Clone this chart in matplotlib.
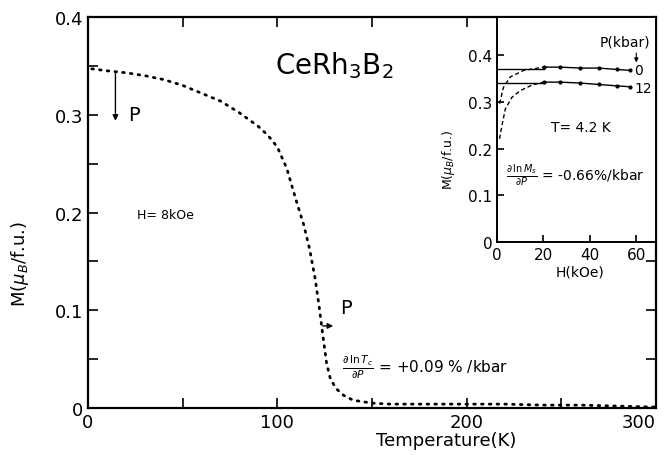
import matplotlib.pyplot as plt

# main panel: M(T) at H = 8 kOe
temp = [2, 10, 20, 30, 40, 50, 60, 70, 80, 90, 95, 100, 105, 110, 114, 117,
        120, 122, 124, 126, 128, 131, 135, 140, 150, 160, 180, 200, 220, 240,
        260, 280, 300]
mag = [0.347, 0.345, 0.343, 0.340, 0.336, 0.330, 0.322, 0.314, 0.302, 0.288,
       0.279, 0.267, 0.245, 0.212, 0.187, 0.163, 0.132, 0.105, 0.075, 0.046,
       0.030, 0.020, 0.013, 0.008, 0.005, 0.004, 0.004, 0.004, 0.004, 0.003,
       0.003, 0.002, 0.001]
t_ticks = [0, 100, 200, 300]
m_ticks = [0, 0.1, 0.2, 0.3, 0.4]
m_labels = ["0", "0.1", "0.2", "0.3", "0.4"]

# inset: M(H) at T = 4.2 K for P = 0 and 12 kbar
h_low = [1.1, 2.8, 5.7, 11.5, 20.1]
m0_low = [0.296, 0.331, 0.353, 0.367, 0.374]
h12_low = [1.1, 2.1, 3.6, 6.5, 10.1, 15.2, 20.1]
m12_low = [0.221, 0.249, 0.285, 0.310, 0.324, 0.336, 0.342]
h_high = [20.1, 27.3, 35.9, 43.8, 51.7, 57.5]
m0_high = [0.374, 0.374, 0.372, 0.372, 0.369, 0.367]
m12_high = [0.342, 0.342, 0.340, 0.337, 0.334, 0.332]
ms0 = 0.370
ms12 = 0.340
h_ticks = [0, 20, 40, 60]

fig = plt.figure(figsize=(6.64, 4.56), dpi=100)
ax = fig.add_axes([0.1325, 0.103, 0.8555, 0.8575])

ax.plot(temp, mag, color="black", linewidth=2.0,
        linestyle=(0, (0.6, 2.2)), dash_capstyle="round")
ax.set_xlim(0, 300)
ax.set_ylim(0, 0.4)
ax.set_xticks(t_ticks)
ax.set_xticks([50, 150, 250], minor=True)
ax.set_yticks(m_ticks, m_labels)
ax.set_yticks([0.05, 0.15, 0.25, 0.35], minor=True)
ax.tick_params(which="both", direction="in", top=True, right=True,
               labelsize=13, width=1.2, length=7)
ax.get_xticklabels()[-1].set_ha("right")
for s in ax.spines.values():
    s.set_linewidth(1.6)

ax.set_xlabel("Temperature(K)", fontsize=13)
ax.xaxis.set_label_coords(0.63, -0.06)
ax.set_ylabel(r"M($\mu_B$/f.u.)", fontsize=13)
ax.yaxis.set_label_coords(-0.1, 0.37)

ax.text(130, 0.351, r"CeRh$_3$B$_2$", fontsize=20, ha="center", va="center")
ax.text(26, 0.198, "H= 8kOe", fontsize=9, va="center")
ax.annotate("", xy=(14.5, 0.291), xytext=(14.5, 0.345),
            arrowprops=dict(arrowstyle="-|>", color="black", lw=1, mutation_scale=8))
ax.text(21, 0.30, "P", fontsize=14, va="center")
ax.annotate("", xy=(131, 0.084), xytext=(122.5, 0.084),
            arrowprops=dict(arrowstyle="-|>", color="black", lw=1, mutation_scale=8))
ax.text(133, 0.103, "P", fontsize=14, va="center")
ax.text(134, 0.043, r"$\frac{\partial\,\ln T_c}{\partial P}$ = +0.09 % /kbar",
        fontsize=11, va="center")

# inset
ins = fig.add_axes([0.7485, 0.4664, 0.2395, 0.4941])
ins.plot(h_low, m0_low, color="black", linewidth=1, linestyle=(0, (3, 2)))
ins.plot(h12_low, m12_low, color="black", linewidth=1, linestyle=(0, (3, 2)))
ins.plot(h_high, m0_high, color="black", linewidth=1, marker="o", markersize=2)
ins.plot(h_high, m12_high, color="black", linewidth=1, marker="o", markersize=2)
ins.plot([0, h_high[0]], [ms0, ms0], color="black", linewidth=1)
ins.plot([0, h_high[0]], [ms12, ms12], color="black", linewidth=1)
ins.set_xlim(0, 68.5)
ins.set_ylim(0, 0.481)
ins.set_xticks(h_ticks)
ins.set_yticks(m_ticks, m_labels)
ins.tick_params(direction="in", labelsize=11, length=5, width=1.2)
for s in ins.spines.values():
    s.set_linewidth(1.4)
ins.set_xlabel("H(kOe)", fontsize=10, labelpad=0)
ins.xaxis.set_label_coords(0.52, -0.1)
ins.set_ylabel(r"M($\mu_B$/f.u.)", fontsize=9)
ins.yaxis.set_label_coords(-0.25, 0.37)

ins.text(55, 0.428, "P(kbar)", fontsize=10, ha="center", va="center")
ins.annotate("", xy=(60, 0.378), xytext=(60, 0.41),
             arrowprops=dict(arrowstyle="-|>", color="black", lw=0.8, mutation_scale=6))
ins.text(59, 0.367, "0", fontsize=10, va="center")
ins.text(59, 0.330, "12", fontsize=10, va="center")
ins.text(36, 0.246, "T= 4.2 K", fontsize=10, ha="center", va="center")
ins.text(4, 0.146, r"$\frac{\partial\,\ln M_s}{\partial P}$ = -0.66%/kbar",
         fontsize=10, va="center")

plt.savefig("out.png", dpi=100)
